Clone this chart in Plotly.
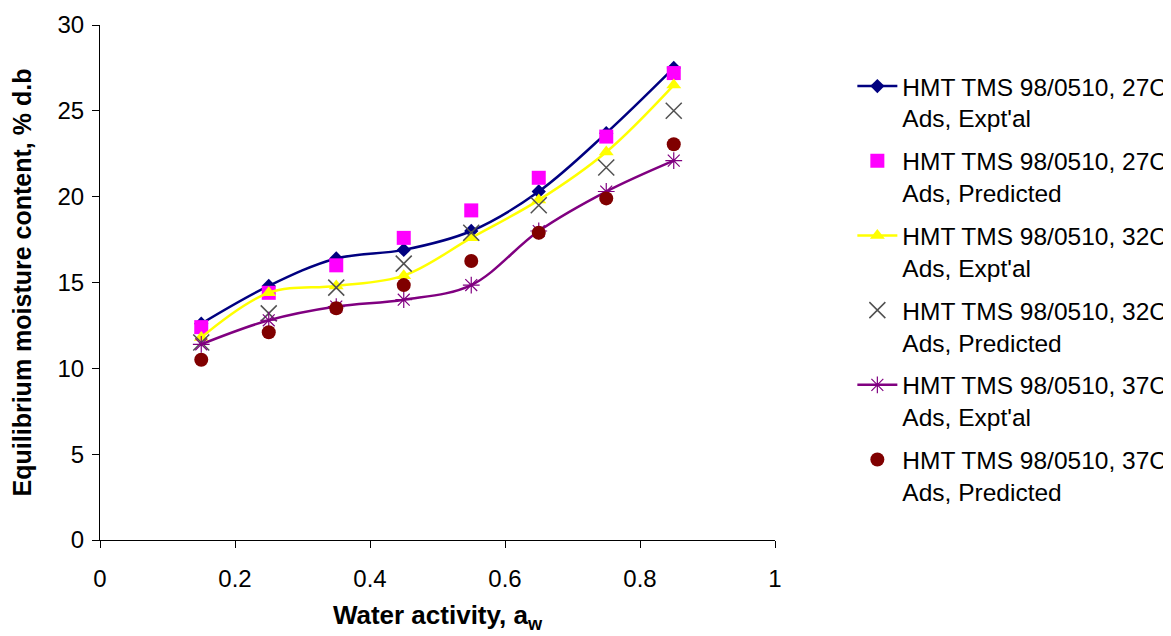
import plotly.graph_objects as go

aw = [0.15, 0.25, 0.35, 0.45, 0.55, 0.65, 0.75, 0.85]

emc_27_expt = [12.6, 14.8, 16.4, 16.9, 18.0, 20.3, 23.7, 27.5]
emc_27_pred = [12.4, 14.4, 16.0, 17.6, 19.2, 21.1, 23.5, 27.2]
emc_32_expt = [11.8, 14.4, 14.8, 15.4, 17.6, 19.8, 22.6, 26.5]
emc_32_pred = [11.5, 13.2, 14.7, 16.1, 17.9, 19.5, 21.7, 25.0]
emc_37_expt = [11.4, 12.8, 13.6, 14.0, 14.85, 18.0, 20.3, 22.1]
emc_37_pred = [10.5, 12.1, 13.5, 14.85, 16.25, 17.9, 19.9, 23.05]

names = [
    "HMT TMS 98/0510, 27C<br>Ads, Expt'al",
    "HMT TMS 98/0510, 27C<br>Ads, Predicted",
    "HMT TMS 98/0510, 32C<br>Ads, Expt'al",
    "HMT TMS 98/0510, 32C<br>Ads, Predicted",
    "HMT TMS 98/0510, 37C<br>Ads, Expt'al",
    "HMT TMS 98/0510, 37C<br>Ads, Predicted",
]

FONT = "Liberation Sans, Arial, sans-serif"

fig = go.Figure()

fig.add_trace(go.Scatter(x=aw, y=emc_27_expt, name=names[0], legendgroup="a",
                         mode="lines+markers", line=dict(color="#000080", width=2.5, shape="spline"),
                         marker=dict(symbol="diamond", size=11, color="#000080")))
fig.add_trace(go.Scatter(x=aw, y=emc_27_pred, name=names[1], legendgroup="b",
                         mode="markers",
                         marker=dict(symbol="square", size=14, color="#FF00FF")))
fig.add_trace(go.Scatter(x=aw, y=emc_32_expt, name=names[2], legendgroup="c",
                         mode="lines+markers", line=dict(color="#FFFF00", width=2.5, shape="spline"),
                         marker=dict(symbol="triangle-up", size=13, color="#FFFF00")))
fig.add_trace(go.Scatter(x=aw, y=emc_32_pred, name=names[3], legendgroup="d",
                         mode="markers",
                         marker=dict(symbol="x-thin-open", size=16, color="#505050",
                                     line=dict(color="#505050", width=1.5))))
fig.add_trace(go.Scatter(x=aw, y=emc_37_expt, name=names[4], legendgroup="e",
                         mode="lines+markers", line=dict(color="#800080", width=2.5, shape="spline"),
                         marker=dict(symbol="asterisk-open", size=14, color="#800080",
                                     line=dict(color="#800080", width=1.2))))
fig.add_trace(go.Scatter(x=aw, y=emc_37_pred, name=names[5], legendgroup="f",
                         mode="markers",
                         marker=dict(symbol="circle", size=14, color="#800000")))

# The page body adds an 8px offset, so margins are compensated by 8px;
# extra paper on the right keeps the legend from pushing the margins.
fig.update_layout(
    width=1200, height=636,
    margin=dict(l=92, r=433, t=17, b=104),
    paper_bgcolor="white", plot_bgcolor="white",
    font=dict(family=FONT, size=24, color="black"),
    showlegend=True,
    legend=dict(x=1.1146, y=0.925, xanchor="left", yanchor="top",
                font=dict(family=FONT, size=24.5, color="black"),
                tracegroupgap=8, valign="top", itemwidth=40,
                bgcolor="rgba(0,0,0,0)"),
)

fig.update_xaxes(range=[0, 1], dtick=0.2, tick0=0, showgrid=False, zeroline=False,
                 automargin=False,
                 showline=True, linecolor="black", linewidth=1,
                 ticks="outside", ticklen=7, tickcolor="black", tickwidth=1,
                 ticklabelstandoff=10,
                 tickfont=dict(family=FONT, size=24, color="black"),
                 title=dict(text="<b>Water activity, a<sub>w</sub></b>",
                            font=dict(family=FONT, size=26, color="black"), standoff=15))
fig.update_yaxes(range=[0, 30], dtick=5, tick0=0, showgrid=False, zeroline=False,
                 automargin=False,
                 showline=True, linecolor="black", linewidth=1,
                 ticks="outside", ticklen=7, tickcolor="black", tickwidth=1,
                 ticklabelstandoff=3,
                 tickfont=dict(family=FONT, size=24, color="black"),
                 title=dict(text="<b>Equilibrium moisture content, % d.b</b>",
                            font=dict(family=FONT, size=25, color="black"), standoff=18))

fig.write_html("out.html")
